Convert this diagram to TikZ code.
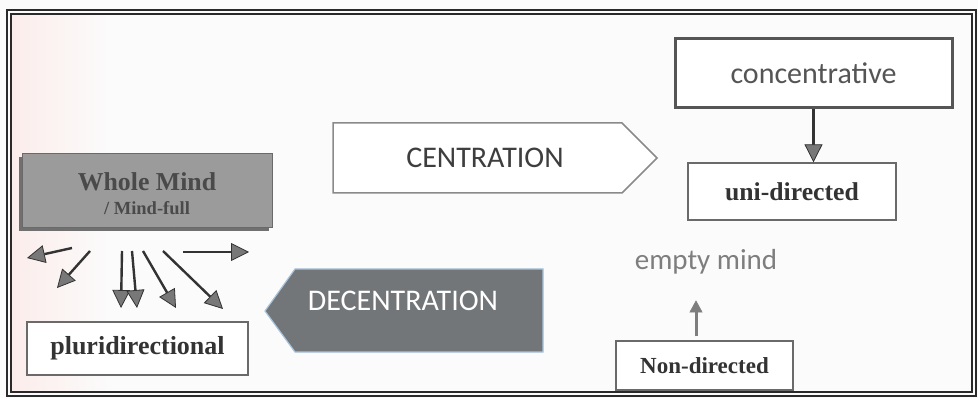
\documentclass[tikz,border=0pt]{standalone}
\usepackage{fontspec}
\setmainfont{Liberation Serif}
\newfontfamily\calib{Carlito}
\usetikzlibrary{arrows.meta}
\definecolor{bgc}{HTML}{FBFBFB}
\definecolor{framec}{HTML}{2A2A2A}
\definecolor{boxline}{HTML}{6A6A6A}
\definecolor{wmfill}{HTML}{9B9B9B}
\definecolor{wmshadow}{HTML}{707070}
\definecolor{wmtext}{HTML}{4A4A4A}
\definecolor{serift}{HTML}{333333}
\definecolor{decfill}{HTML}{727679}
\definecolor{decline}{HTML}{A8C3DB}
\definecolor{centline}{HTML}{8A8A8A}
\definecolor{centtext}{HTML}{3E3E3E}
\definecolor{conctext}{HTML}{555555}
\definecolor{emptytext}{HTML}{7E7E7E}
\definecolor{arrline}{HTML}{333333}
\definecolor{arrhead}{HTML}{787878}
\definecolor{pinkish}{HTML}{FBEDEB}
\tikzset{
  plainbox/.style={draw=boxline, line width=1.3pt, fill=white, inner sep=0pt, anchor=center},
  serifbold/.style={font=\fontsize{#1}{#1}\selectfont\bfseries, text=serift},
  fan/.style={draw=arrline, line width=2.4pt,
     -{Triangle[length=18pt,width=18pt,fill=arrhead,line width=0.8pt]}},
  smallup/.style={draw=emptytext, line width=3pt,
     -{Triangle[length=12pt,width=13pt,fill=emptytext,line width=0.5pt]}},
}
\begin{document}
\begin{tikzpicture}[x=1pt,y=-1pt]
\useasboundingbox (0,0) rectangle (978,398);
\fill[bgc] (0,0) rectangle (978,398);
\shade[left color=pinkish, right color=bgc] (12,15) rectangle (110,392);
% frame
\draw[framec, line width=1.6pt] (7,10) rectangle (976,396);
\draw[framec, line width=1.2pt] (11,14) rectangle (972,392);
% Whole mind box
\fill[wmshadow] (19,157) rectangle (269,231);
\node[draw=boxline, line width=1pt, fill=wmfill, minimum width=250pt, minimum height=74pt, inner sep=0pt, align=center, text=wmtext,
  font=\fontsize{20}{24}\selectfont\bfseries]
  (whole) at (147,191) {};
\node[text=wmtext, align=center, font=\fontsize{20}{24}\selectfont\bfseries]
  (wholetxt) at (147,194) {{\fontsize{25.8}{24}\selectfont Whole Mind}\\{\fontsize{18.5}{24}\selectfont / Mind-full}};
% pluridirectional
\node[plainbox, minimum width=221pt, minimum height=53pt, serifbold=26] (pluri) at (137.5,348.5) {pluridirectional};
% fan arrows
\coordinate (s1) at (72,248);  \coordinate (e1) at (27,258);
\coordinate (s2) at (90,251);  \coordinate (e2) at (57,288);
\coordinate (s3) at (122,251); \coordinate (e3) at (121,308);
\coordinate (s4) at (132,251); \coordinate (e4) at (137,308);
\coordinate (s5) at (143,251); \coordinate (e5) at (176,308);
\coordinate (s6) at (163,251); \coordinate (e6) at (223,309);
\coordinate (s7) at (183,252); \coordinate (e7) at (249,252);
\foreach \i in {1,...,7} {\draw[fan] (s\i) -- (e\i);}
% CENTRATION arrow
\draw[centline, line width=1.5pt, fill=white] (333,123) -- (622,123) -- (657,158) -- (622,193) -- (333,193) -- cycle;
\node[text=centtext, font=\calib\fontsize{30}{30}\selectfont] (cent) at (485,158) {CENTRATION};
% DECENTRATION arrow
\draw[decline, line width=1.2pt, fill=decfill] (543,269) -- (295,269) -- (265,311) -- (295,352) -- (543,352) -- cycle;
\node[text=white, font=\calib\fontsize{30}{30}\selectfont] (decent) at (403,301) {DECENTRATION};
% concentrative
\node[draw=conctext, line width=3pt, fill=white, minimum width=277pt, minimum height=69pt, inner sep=0pt,
  text=conctext, font=\calib\fontsize{30}{30}\selectfont] (conc) at (813.5,73.5) {concentrative};
% uni-directed
\node[plainbox, minimum width=208pt, minimum height=57pt, serifbold=25.7] (uni) at (792,191.5) {uni-directed};
\draw[fan] (conc.south) -- (conc.south |- uni.north);
% empty mind
\node[text=emptytext, font=\calib\fontsize{29}{29}\selectfont] (empty) at (706,262) {empty mind};
% Non-directed
\node[plainbox, minimum width=177pt, minimum height=49pt, serifbold=23] (nond) at (704.5,365.5) {Non-directed};
\draw[smallup] ([shift={(-8.5,-4)}]nond.north) -- ([shift={(-8.5,-40)}]nond.north);
\end{tikzpicture}
\end{document}
